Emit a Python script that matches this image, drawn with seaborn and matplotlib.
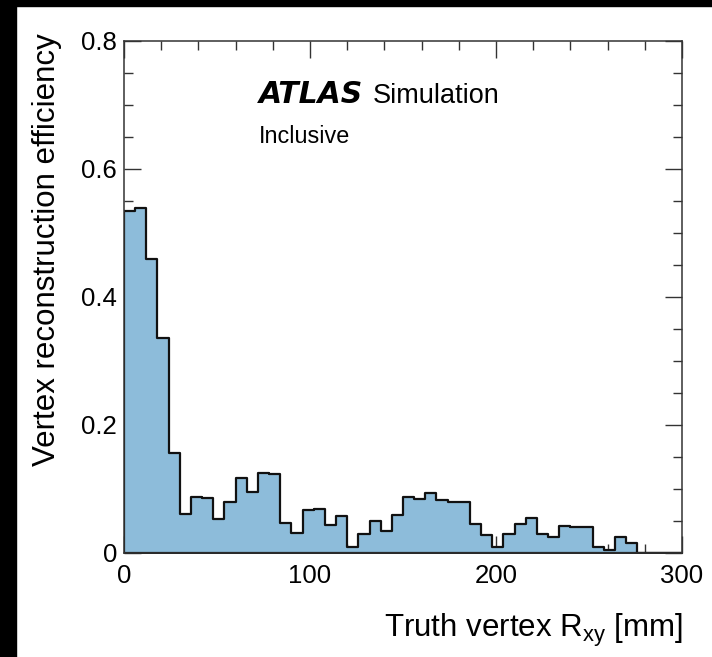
import numpy as np
import pandas as pd
import matplotlib
matplotlib.use('Agg')
import matplotlib.pyplot as plt
import seaborn as sns
from matplotlib.patches import Rectangle
from matplotlib.ticker import MultipleLocator

# efficiency per 6 mm bin of truth vertex R_xy, 0-300 mm
eff = [0.535, 0.539, 0.459, 0.336, 0.157, 0.061, 0.087, 0.086, 0.053, 0.079,
       0.117, 0.096, 0.125, 0.123, 0.047, 0.031, 0.067, 0.069, 0.043, 0.058,
       0.010, 0.029, 0.050, 0.035, 0.059, 0.088, 0.085, 0.094, 0.083, 0.080,
       0.079, 0.045, 0.028, 0.009, 0.029, 0.045, 0.054, 0.030, 0.025, 0.042,
       0.040, 0.040, 0.009, 0.005, 0.025, 0.015, 0.0, 0.0, 0.0, 0.0]
x_ticks = [0, 100, 200, 300]
x_tick_labels = ['0', '100', '200', '300']
y_ticks = [0, 0.2, 0.4, 0.6, 0.8]
y_tick_labels = ['0', '0.2', '0.4', '0.6', '0.8']

n_bins = len(eff)
edges = np.linspace(0, 300, n_bins + 1)
df = pd.DataFrame({'r': 0.5 * (edges[:-1] + edges[1:]), 'eff': eff})

sns.set_style('ticks')
plt.rcParams['font.family'] = ['Liberation Sans', 'DejaVu Sans']
plt.rcParams['mathtext.default'] = 'regular'
plt.rcParams['text.color'] = 'black'
plt.rcParams['axes.labelcolor'] = 'black'

fig = plt.figure(figsize=(7.12, 6.57), dpi=100)
ax = fig.add_axes([124 / 712, 1 - 553 / 657, 558 / 712, 512 / 657])

sns.histplot(data=df, x='r', weights='eff', bins=n_bins, binrange=(0, 300),
             element='step', fill=True, color='#8dbcda', edgecolor='#111111',
             linewidth=1.6, alpha=1, ax=ax)

ax.set_xlim(0, 300)
ax.set_ylim(0, 0.8)
ax.set_xticks(x_ticks)
ax.set_xticklabels(x_tick_labels)
ax.set_yticks(y_ticks)
ax.set_yticklabels(y_tick_labels)
ax.xaxis.set_minor_locator(MultipleLocator(20))
ax.yaxis.set_minor_locator(MultipleLocator(0.05))
ax.tick_params(which='both', direction='in', top=True, right=True, color='#333333',
               width=1.0, labelcolor='black')
ax.tick_params(which='major', length=12, labelsize=18.5)
ax.tick_params(which='minor', length=6.5)
ax.tick_params(axis='x', which='major', pad=8)
ax.tick_params(axis='y', which='major', pad=5)
for s in ax.spines.values():
    s.set_linewidth(1.1)
    s.set_color('#333333')

ax.set_xlabel(r'Truth vertex R$_{xy}$ [mm]', fontsize=22.5, ha='right', va='baseline')
ax.xaxis.set_label_coords(1.002, -0.164)
ax.set_ylabel('Vertex reconstruction efficiency', fontsize=22.5, ha='right', va='baseline')
ax.yaxis.set_label_coords(-0.124, 1.016)

ax.text(0.241, 0.879, 'ATLAS', transform=ax.transAxes, fontsize=21.5,
        family='DejaVu Sans', fontweight='bold', fontstyle='italic', va='baseline')
ax.text(0.446, 0.879, 'Simulation', transform=ax.transAxes, fontsize=19.5, va='baseline')
ax.text(0.241, 0.801, 'Inclusive', transform=ax.transAxes, fontsize=16.8, va='baseline')

# black screen-capture strips at top and left
fig.patches.append(Rectangle((0, 1 - 6 / 657), 1, 6 / 657, transform=fig.transFigure,
                             color='black', zorder=10))
fig.patches.append(Rectangle((0, 0), 16 / 712, 1, transform=fig.transFigure,
                             color='black', zorder=10))

fig.savefig('out.png', dpi=100)
